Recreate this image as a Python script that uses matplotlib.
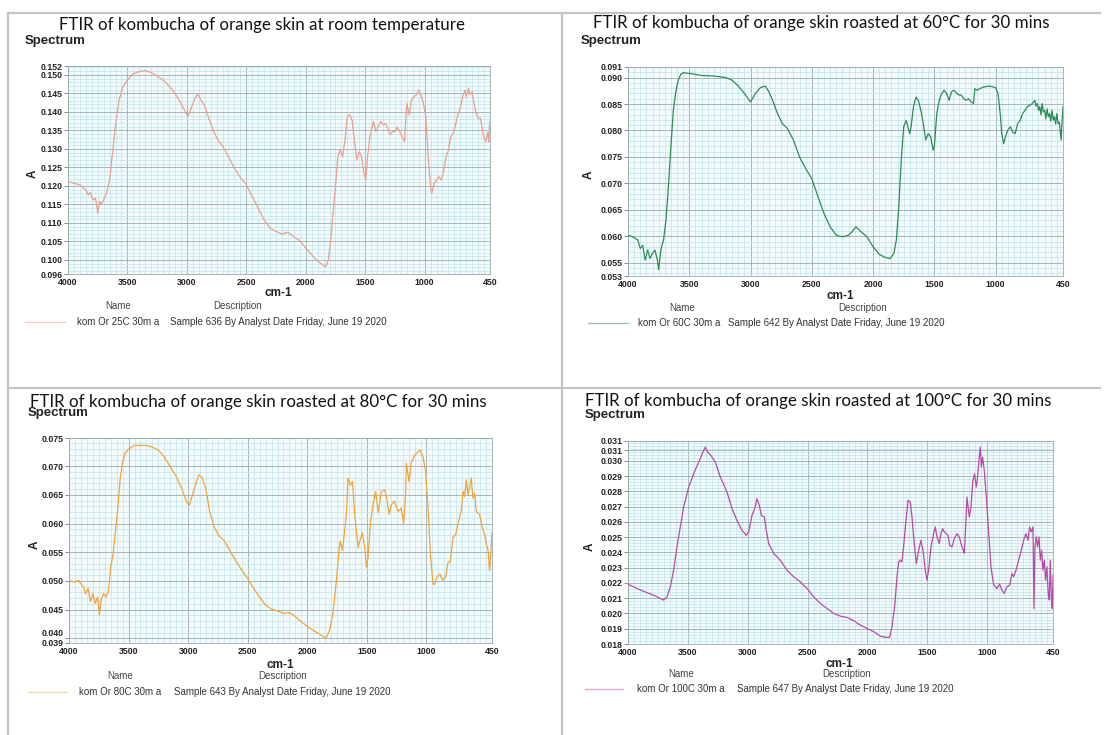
import matplotlib
matplotlib.use("Agg")
import matplotlib.pyplot as plt
from matplotlib.ticker import MultipleLocator, FixedLocator
from matplotlib.lines import Line2D

# ---------------- data ----------------
wn_25 = [4000, 3950, 3900, 3870, 3850, 3830, 3810, 3790, 3770, 3760, 3750, 3735, 3720, 3700, 3680,
         3650, 3620, 3600, 3570, 3540, 3500, 3450, 3400, 3350, 3300, 3250, 3200, 3150, 3100, 3050,
         3000, 2990, 2970, 2930, 2910, 2880, 2850, 2820, 2780, 2740, 2700, 2650, 2600, 2550, 2500,
         2450, 2400, 2350, 2300, 2250, 2200, 2150, 2100, 2050, 2000, 1950, 1900, 1850, 1830, 1810,
         1790, 1770, 1750, 1730, 1710, 1690, 1670, 1650, 1630, 1610, 1590, 1570, 1550, 1530, 1510,
         1495, 1480, 1460, 1430, 1410, 1390, 1370, 1350, 1330, 1310, 1290, 1270, 1250, 1230, 1210,
         1190, 1170, 1160, 1150, 1130, 1110, 1090, 1070, 1050, 1030, 1010, 990, 970, 950, 940,
         920, 900, 880, 860, 840, 820, 800, 780, 760, 740, 720, 700, 680, 660, 650,
         630, 620, 600, 590, 570, 550, 530, 510, 500, 485, 470, 460, 455, 450]
abs_25 = [0.1212, 0.1207, 0.1203, 0.1194, 0.1189, 0.1176, 0.1182, 0.1162, 0.1167, 0.1153, 0.1126, 0.1158, 0.1151, 0.1162, 0.1176,
          0.1216, 0.1306, 0.1365, 0.1432, 0.1467, 0.1486, 0.1503, 0.1509, 0.1512, 0.1506, 0.1497, 0.1486, 0.1470, 0.1450, 0.1423,
          0.1392, 0.1389, 0.1405, 0.1437, 0.1449, 0.1432, 0.1416, 0.1387, 0.1351, 0.1324, 0.1308, 0.1279, 0.1248, 0.1223, 0.1203,
          0.1171, 0.1140, 0.1108, 0.1086, 0.1077, 0.1070, 0.1075, 0.1063, 0.1052, 0.1032, 0.1014, 0.0997, 0.0985, 0.0982, 0.1000,
          0.1054, 0.1126, 0.1198, 0.1279, 0.1297, 0.1279, 0.1324, 0.1387, 0.1392, 0.1378, 0.1324, 0.1270, 0.1293, 0.1279, 0.1234,
          0.1216, 0.1279, 0.1333, 0.1374, 0.1347, 0.1360, 0.1374, 0.1365, 0.1369, 0.1356, 0.1338, 0.1347, 0.1347, 0.1359, 0.1347,
          0.1333, 0.1320, 0.1369, 0.1423, 0.1392, 0.1432, 0.1441, 0.1446, 0.1459, 0.1446, 0.1423, 0.1387, 0.1279, 0.1198, 0.1180,
          0.1207, 0.1216, 0.1225, 0.1216, 0.1239, 0.1279, 0.1297, 0.1333, 0.1342, 0.1365, 0.1392, 0.1410, 0.1441, 0.1459, 0.1441,
          0.1464, 0.1446, 0.1455, 0.1432, 0.1401, 0.1383, 0.1383, 0.1342, 0.1330, 0.1320, 0.1345, 0.1318, 0.1360, 0.1374]

wn_60 = [4000, 3960, 3920, 3900, 3880, 3860, 3840, 3820, 3800, 3780, 3760, 3750, 3730, 3710, 3690,
         3670, 3650, 3630, 3610, 3590, 3570, 3550, 3500, 3400, 3300, 3200, 3150, 3100, 3050, 3000,
         2960, 2920, 2880, 2850, 2820, 2780, 2740, 2700, 2650, 2600, 2550, 2500, 2450, 2400, 2350,
         2300, 2250, 2200, 2170, 2140, 2100, 2050, 2000, 1950, 1900, 1860, 1830, 1810, 1790, 1770,
         1750, 1730, 1720, 1700, 1690, 1670, 1650, 1630, 1610, 1590, 1570, 1550, 1530, 1510, 1500,
         1480, 1460, 1440, 1420, 1400, 1380, 1360, 1340, 1320, 1300, 1280, 1260, 1240, 1220, 1200,
         1180, 1170, 1150, 1130, 1100, 1050, 1000, 980, 960, 950, 935, 920, 900, 880, 860,
         840, 820, 800, 780, 760, 740, 720, 700, 680, 670, 660, 650, 640, 630, 620,
         610, 600, 590, 580, 570, 560, 550, 540, 530, 520, 510, 500, 490, 480, 470,
         465, 460, 455, 450]
abs_60 = [0.0602, 0.0599, 0.0593, 0.0577, 0.0583, 0.0555, 0.0574, 0.0558, 0.0568, 0.0574, 0.0555, 0.0537, 0.0577, 0.0593, 0.0631,
          0.0694, 0.0769, 0.0838, 0.0873, 0.0895, 0.0906, 0.0909, 0.0908, 0.0904, 0.0903, 0.0900, 0.0895, 0.0884, 0.0870, 0.0854,
          0.0870, 0.0881, 0.0884, 0.0873, 0.0857, 0.0832, 0.0813, 0.0804, 0.0782, 0.0750, 0.0728, 0.0709, 0.0675, 0.0643, 0.0618,
          0.0602, 0.0599, 0.0602, 0.0609, 0.0618, 0.0609, 0.0599, 0.0580, 0.0566, 0.0560, 0.0558, 0.0568, 0.0593, 0.0656, 0.0744,
          0.0807, 0.0819, 0.0810, 0.0794, 0.0807, 0.0845, 0.0863, 0.0857, 0.0838, 0.0813, 0.0782, 0.0794, 0.0788, 0.0763, 0.0769,
          0.0832, 0.0857, 0.0870, 0.0876, 0.0870, 0.0857, 0.0873, 0.0876, 0.0871, 0.0867, 0.0867, 0.0860, 0.0857, 0.0860, 0.0854,
          0.0851, 0.0879, 0.0876, 0.0879, 0.0882, 0.0884, 0.0881, 0.0870, 0.0826, 0.0794, 0.0775, 0.0788, 0.0801, 0.0807, 0.0797,
          0.0794, 0.0813, 0.0819, 0.0832, 0.0838, 0.0845, 0.0848, 0.0851, 0.0857, 0.0846, 0.0851, 0.0838, 0.0845, 0.0830, 0.0851,
          0.0835, 0.0838, 0.0822, 0.0841, 0.0826, 0.0832, 0.0818, 0.0838, 0.0820, 0.0826, 0.0812, 0.0832, 0.0813, 0.0816, 0.0794,
          0.0782, 0.0807, 0.0826, 0.0845]

wn_80 = [4000, 3950, 3920, 3900, 3880, 3860, 3840, 3820, 3800, 3780, 3760, 3745, 3730, 3710, 3690,
         3670, 3650, 3630, 3610, 3590, 3570, 3550, 3530, 3500, 3450, 3400, 3350, 3300, 3250, 3200,
         3150, 3100, 3050, 3010, 2990, 2960, 2930, 2910, 2880, 2850, 2820, 2780, 2740, 2700, 2650,
         2600, 2550, 2500, 2450, 2400, 2350, 2300, 2250, 2200, 2150, 2100, 2050, 2000, 1950, 1900,
         1860, 1839, 1812, 1784, 1756, 1733, 1725, 1705, 1672, 1658, 1638, 1621, 1602, 1574, 1560,
         1538, 1518, 1504, 1490, 1470, 1448, 1426, 1406, 1378, 1350, 1336, 1314, 1294, 1267, 1239,
         1211, 1191, 1174, 1169, 1146, 1127, 1099, 1071, 1051, 1029, 1007, 987, 967, 945, 931,
         912, 889, 861, 839, 819, 800, 777, 755, 736, 707, 693, 680, 666, 652, 638,
         624, 610, 596, 582, 554, 531, 512, 498, 484, 470, 459, 450]
abs_80 = [0.0501, 0.0498, 0.0501, 0.0495, 0.0490, 0.0478, 0.0487, 0.0464, 0.0478, 0.0461, 0.0472, 0.0441, 0.0467, 0.0478, 0.0472,
          0.0481, 0.0524, 0.0547, 0.0587, 0.0627, 0.0679, 0.0707, 0.0722, 0.0730, 0.0736, 0.0736, 0.0736, 0.0733, 0.0728, 0.0716,
          0.0699, 0.0682, 0.0659, 0.0636, 0.0632, 0.0653, 0.0673, 0.0685, 0.0679, 0.0659, 0.0621, 0.0593, 0.0578, 0.0571, 0.0553,
          0.0535, 0.0519, 0.0504, 0.0487, 0.0472, 0.0458, 0.0451, 0.0448, 0.0444, 0.0445, 0.0438, 0.0429, 0.0421, 0.0414, 0.0408,
          0.0402, 0.0402, 0.0415, 0.0444, 0.0501, 0.0555, 0.0570, 0.0553, 0.0616, 0.0679, 0.0667, 0.0673, 0.0616, 0.0558, 0.0570,
          0.0584, 0.0558, 0.0524, 0.0541, 0.0604, 0.0633, 0.0656, 0.0619, 0.0656, 0.0659, 0.0647, 0.0616, 0.0633, 0.0639, 0.0621,
          0.0627, 0.0599, 0.0656, 0.0705, 0.0673, 0.0707, 0.0719, 0.0725, 0.0728, 0.0716, 0.0690, 0.0627, 0.0547, 0.0495, 0.0494,
          0.0507, 0.0512, 0.0501, 0.0507, 0.0533, 0.0533, 0.0576, 0.0581, 0.0599, 0.0624, 0.0656, 0.0647, 0.0676, 0.0650, 0.0662,
          0.0679, 0.0644, 0.0653, 0.0621, 0.0616, 0.0593, 0.0581, 0.0564, 0.0555, 0.0518, 0.0547, 0.0584]

wn_100 = [4000, 3925, 3841, 3786, 3730, 3702, 3674, 3646, 3619, 3591, 3563, 3535, 3493, 3452, 3410,
          3374, 3354, 3335, 3307, 3271, 3229, 3173, 3131, 3090, 3048, 3012, 2992, 2964, 2937, 2923,
          2903, 2886, 2861, 2845, 2825, 2783, 2728, 2672, 2616, 2561, 2505, 2449, 2394, 2338, 2282,
          2227, 2171, 2115, 2060, 2004, 1948, 1893, 1851, 1815, 1795, 1773, 1753, 1739, 1725, 1712,
          1698, 1678, 1661, 1642, 1628, 1614, 1592, 1572, 1553, 1536, 1517, 1503, 1489, 1469, 1447,
          1433, 1419, 1400, 1386, 1372, 1358, 1341, 1327, 1313, 1294, 1274, 1252, 1233, 1210, 1191,
          1177, 1169, 1149, 1135, 1119, 1105, 1091, 1080, 1066, 1057, 1049, 1038, 1024, 1007, 988,
          968, 946, 918, 896, 876, 857, 835, 812, 793, 779, 759, 737, 715, 695, 676,
          659, 645, 631, 617, 609, 601, 590, 579, 567, 556, 545, 534, 523, 512, 501,
          490, 481, 473, 464, 456, 450]
abs_100 = [0.02192, 0.02164, 0.02136, 0.02120, 0.02098, 0.02088, 0.02109, 0.02175, 0.02284, 0.02436, 0.02567, 0.02698, 0.02828, 0.02915, 0.02992,
           0.03057, 0.03090, 0.03057, 0.03035, 0.02992, 0.02894, 0.02796, 0.02687, 0.02610, 0.02545, 0.02512, 0.02534, 0.02643, 0.02698, 0.02752,
           0.02708, 0.02643, 0.02632, 0.02545, 0.02458, 0.02393, 0.02349, 0.02284, 0.02240, 0.02207, 0.02164, 0.02109, 0.02066, 0.02033, 0.02000,
           0.01983, 0.01974, 0.01953, 0.01924, 0.01902, 0.01881, 0.01852, 0.01844, 0.01844, 0.01913, 0.02044, 0.02240, 0.02338, 0.02349, 0.02338,
           0.02436, 0.02610, 0.02741, 0.02730, 0.02632, 0.02502, 0.02327, 0.02414, 0.02480, 0.02414, 0.02284, 0.02218, 0.02284, 0.02436, 0.02523,
           0.02567, 0.02502, 0.02458, 0.02523, 0.02556, 0.02534, 0.02523, 0.02512, 0.02447, 0.02436, 0.02491, 0.02523, 0.02502, 0.02436, 0.02393,
           0.02610, 0.02763, 0.02632, 0.02698, 0.02872, 0.02915, 0.02828, 0.02894, 0.03024, 0.03090, 0.02959, 0.03024, 0.02937, 0.02763, 0.02545,
           0.02305, 0.02186, 0.02164, 0.02192, 0.02153, 0.02131, 0.02175, 0.02186, 0.02262, 0.02240, 0.02284, 0.02349, 0.02414, 0.02480, 0.02523,
           0.02480, 0.02567, 0.02534, 0.02567, 0.02033, 0.02436, 0.02502, 0.02436, 0.02502, 0.02349, 0.02414, 0.02284, 0.02349, 0.02218, 0.02305,
           0.02131, 0.02088, 0.02349, 0.02109, 0.02033, 0.02250]

x_major = [4000, 3500, 3000, 2500, 2000, 1500, 1000, 450]
x_labels = ["4000", "3500", "3000", "2500", "2000", "1500", "1000", "450"]

y_ticks_25 = [0.0962, 0.100, 0.105, 0.110, 0.115, 0.120, 0.125, 0.130, 0.135, 0.140, 0.145, 0.150, 0.1524]
y_labels_25 = ["0.096", "0.100", "0.105", "0.110", "0.115", "0.120", "0.125", "0.130", "0.135", "0.140", "0.145", "0.150", "0.152"]
y_ticks_60 = [0.0525, 0.055, 0.060, 0.065, 0.070, 0.075, 0.080, 0.085, 0.090, 0.0920]
y_labels_60 = ["0.053", "0.055", "0.060", "0.065", "0.070", "0.075", "0.080", "0.085", "0.090", "0.091"]
y_ticks_80 = [0.0392, 0.040, 0.045, 0.050, 0.055, 0.060, 0.065, 0.070, 0.0749]
y_labels_80 = ["0.039", "0.040", "0.045", "0.050", "0.055", "0.060", "0.065", "0.070", "0.075"]
y_ticks_100 = [0.018, 0.019, 0.020, 0.021, 0.022, 0.023, 0.024, 0.025, 0.026, 0.027, 0.028, 0.029, 0.030, 0.0307, 0.0313]
y_labels_100 = ["0.018", "0.019", "0.020", "0.021", "0.022", "0.023", "0.024", "0.025", "0.026", "0.027", "0.028", "0.029", "0.030", "0.031", "0.031"]

titles = ["FTIR of kombucha of orange skin at room temperature",
          "FTIR of kombucha of orange skin roasted at 60\u00b0C for 30 mins",
          "FTIR of kombucha of orange skin roasted at 80\u00b0C for 30 mins",
          "FTIR of kombucha of orange skin roasted at 100\u00b0C for 30 mins"]
names = ["kom Or 25C 30m a", "kom Or 60C 30m a", "kom Or 80C 30m a", "kom Or 100C 30m a"]
descs = ["Sample 636 By Analyst Date Friday, June 19 2020",
         "Sample 642 By Analyst Date Friday, June 19 2020",
         "Sample 643 By Analyst Date Friday, June 19 2020",
         "Sample 647 By Analyst Date Friday, June 19 2020"]

# ---------------- figure ----------------
W, H = 1104, 735
fig = plt.figure(figsize=(W / 100, H / 100), dpi=100)
fig.patch.set_facecolor("white")

def fx(px):
    return px / W

def fy(py):
    return 1 - py / H

# table borders
border = "#c4c4c4"
fig.add_artist(Line2D([fx(8), fx(1100)], [fy(13), fy(13)], color=border, lw=1.6))
fig.add_artist(Line2D([fx(8), fx(1100)], [fy(388), fy(388)], color=border, lw=1.6))
fig.add_artist(Line2D([fx(8), fx(8)], [fy(13), fy(735)], color=border, lw=1.6))
fig.add_artist(Line2D([fx(562), fx(562)], [fy(13), fy(735)], color=border, lw=1.6))

panels = [
    dict(wn=wn_25, ab=abs_25, color="#e9a08e", box=(68, 66, 490, 274), ylim=(0.0962, 0.1524),
         yt=y_ticks_25, yl=y_labels_25, yminor=0.001,
         title=titles[0], tpos=(262, 25), spos=(25, 41), apos=(33, 174), cpos=(278, 292),
         npos=(118, 306), dpos=(238, 306), lline=(25, 65, 322), ntx=77, dtx=170,
         name=names[0], desc=descs[0], lcol="#f3c8c0"),
    dict(wn=wn_60, ab=abs_60, color="#2f8a55", box=(628, 67, 1063, 276), ylim=(0.0525, 0.0920),
         yt=y_ticks_60, yl=y_labels_60, yminor=0.001,
         title=titles[1], tpos=(821, 23), spos=(581, 41), apos=(589, 175), cpos=(840, 295),
         npos=(682, 308), dpos=(863, 308), lline=(588, 628, 323), ntx=638, dtx=728,
         name=names[1], desc=descs[1], lcol="#8fc3a4"),
    dict(wn=wn_80, ab=abs_80, color="#f0a43c", box=(69, 438, 492, 643), ylim=(0.0392, 0.0749),
         yt=y_ticks_80, yl=y_labels_80, yminor=0.001,
         title=titles[2], tpos=(258, 402), spos=(28, 413), apos=(35, 545), cpos=(280, 664),
         npos=(120, 676), dpos=(283, 676), lline=(28, 67, 692), ntx=79, dtx=174,
         name=names[2], desc=descs[2], lcol="#f4d7a6"),
    dict(wn=wn_100, ab=abs_100, color="#b44ca6", box=(628, 441, 1053, 644), ylim=(0.018, 0.0313),
         yt=y_ticks_100, yl=y_labels_100, yminor=0.0002,
         title=titles[3], tpos=(818, 401), spos=(585, 415), apos=(590, 547), cpos=(839, 663),
         npos=(681, 674), dpos=(847, 674), lline=(585, 623, 689), ntx=637, dtx=737,
         name=names[3], desc=descs[3], lcol="#d9a6d2"),
]

title_font = dict(family="Lato", size=12.2, color="#111111")
arial = "Liberation Sans"

for i, p in enumerate(panels):
    l, t, r, b = p["box"]
    ax = fig.add_axes([fx(l), fy(b), fx(r - l), (b - t) / H])
    ax.set_facecolor("#f3fbfc")
    ax.plot(p["wn"], p["ab"], color=p["color"], lw=0.9, zorder=3)
    ax.set_xlim(4000, 450)
    ax.set_ylim(*p["ylim"])
    ax.xaxis.set_major_locator(FixedLocator(x_major))
    ax.set_xticklabels(x_labels, fontsize=6.3, fontfamily=arial, color="#222222", fontweight="bold")
    ax.xaxis.set_minor_locator(MultipleLocator(50))
    ax.yaxis.set_major_locator(FixedLocator(p["yt"]))
    ylabs = ax.set_yticklabels(p["yl"], fontsize=6.3, fontfamily=arial, color="#222222", fontweight="bold")
    if i == 2:
        # the two bottom labels are very close: nudge the second one upward as in the original
        ylabs[1].set_va("bottom")
    ax.yaxis.set_minor_locator(MultipleLocator(p["yminor"]))
    ax.grid(which="minor", color="#bfe4ea", lw=0.5, zorder=0)
    ax.grid(which="major", color="#9aabae", lw=0.6, zorder=1)
    ax.tick_params(axis="both", which="minor", length=0)
    ax.tick_params(axis="y", which="major", length=3, width=0.6, color="#777777", pad=1)
    ax.tick_params(axis="x", which="major", length=0, pad=3)
    for s in ax.spines.values():
        s.set_color("#9aabae")
        s.set_linewidth(0.6)
    ax.set_axisbelow(True)

    fig.text(fx(p["tpos"][0]), fy(p["tpos"][1]), p["title"], ha="center", va="center", **title_font)
    fig.text(fx(p["spos"][0]), fy(p["spos"][1]), "Spectrum", ha="left", va="center",
             family=arial, fontsize=9.5, fontweight="bold", color="#222222")
    fig.text(fx(p["apos"][0]), fy(p["apos"][1]), "A", ha="center", va="center", rotation=90,
             family=arial, fontsize=8.5, fontweight="bold", color="#222222")
    fig.text(fx(p["cpos"][0]), fy(p["cpos"][1] + 1), "cm-1", ha="center", va="center",
             family=arial, fontsize=8.5, fontweight="bold", color="#222222")
    fig.text(fx(p["npos"][0]), fy(p["npos"][1]), "Name", ha="center", va="center",
             family=arial, fontsize=7, color="#444444")
    fig.text(fx(p["dpos"][0]), fy(p["dpos"][1]), "Description", ha="center", va="center",
             family=arial, fontsize=7, color="#444444")
    x0, x1, yl = p["lline"]
    fig.add_artist(Line2D([fx(x0), fx(x1)], [fy(yl), fy(yl)], color=p["lcol"], lw=0.9))
    fig.text(fx(p["ntx"]), fy(yl), p["name"], ha="left", va="center",
             family=arial, fontsize=7, color="#333333")
    fig.text(fx(p["dtx"]), fy(yl), p["desc"], ha="left", va="center",
             family=arial, fontsize=7, color="#333333")

fig.savefig("out.png", dpi=100, facecolor="white")
